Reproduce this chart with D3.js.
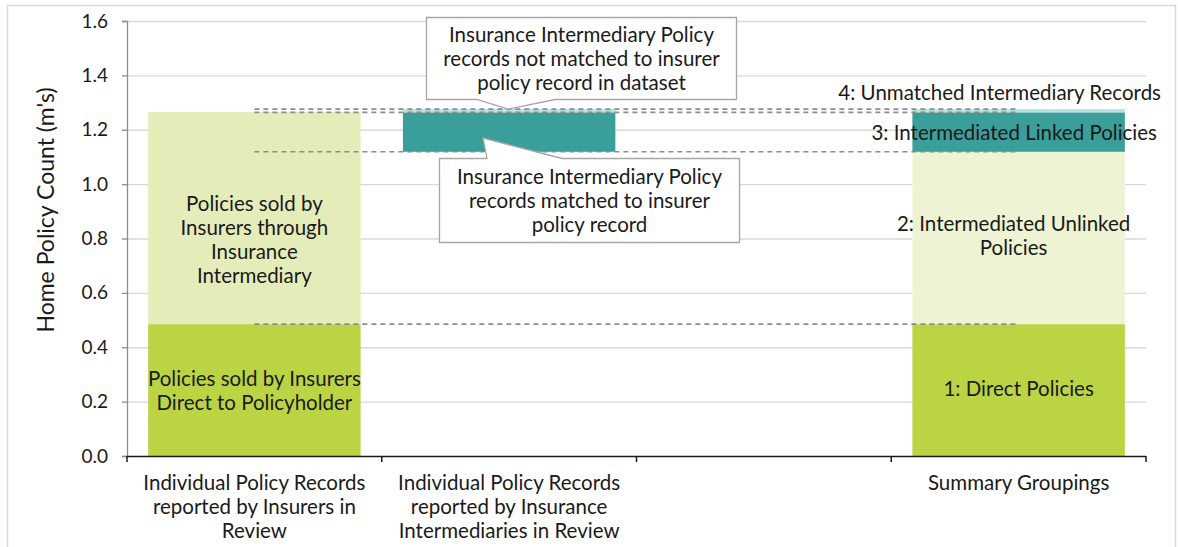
<!DOCTYPE html>
<html><head><meta charset="utf-8">
<script src="https://cdn.jsdelivr.net/npm/d3@7"></script>
<style>
html,body{margin:0;padding:0;background:#fff;}
svg text{font-family:Lato,"Open Sans",sans-serif;fill:#1a1a1a;}
</style></head>
<body><svg id="c" width="1178" height="547"></svg>
<script>
// ---- data ----
const categories = [
  ["Individual Policy Records","reported by Insurers in","Review"],
  ["Individual Policy Records","reported by Insurance","Intermediaries in Review"],
  [""],
  ["Summary Groupings"]
];
const direct       = [0.485, 0,     0, 0.485];
const intermediary = [0.780, 0,     0, 0.634];
const hiddenBase   = [0,     1.119, 0, 0];
const matched      = [0,     0.145, 0, 0.145];
const unmatched    = [0,     0.012, 0, 0.012];
const yTicks = [0, 0.2, 0.4, 0.6, 0.8, 1.0, 1.2, 1.4, 1.6];
const yTitle = "Home Policy Count (m's)";

const svg = d3.select("#c");
const m = {l:127, r:1146, t:21, b:456};
const FS = 20.5;

// chart border
svg.append("rect").attr("x",7.5).attr("y",5.5).attr("width",1168).attr("height",600)
  .attr("fill","none").attr("stroke","#d9d9d9").attr("stroke-width",1.5);

const x = d3.scaleBand().domain(d3.range(categories.length)).range([m.l, m.r])
  .paddingInner(0.166).paddingOuter(0.083);
const y = d3.scaleLinear().domain([0,1.6]).range([m.b, m.t]);

// gridlines
svg.append("g").selectAll("line").data(yTicks.slice(1)).join("line")
  .attr("x1",m.l).attr("x2",m.r).attr("y1",d=>y(d)+0.5).attr("y2",d=>y(d)+0.5)
  .attr("stroke","#d9d9d9").attr("stroke-width",1.3);

// stacked series
const series = [
  {vals:hiddenBase, colors:[null,null,null,null]},
  {vals:direct, colors:["#bbd444","#bbd444","#bbd444","#bbd444"]},
  {vals:intermediary, colors:["#e4edb9","#e4edb9","#e4edb9","#edf3d3"]},
  {vals:matched, colors:["#3a9e9a","#3a9e9a","#3a9e9a","#3a9e9a"]},
  {vals:unmatched, colors:["#b5e2e2","#b5e2e2","#b5e2e2","#b5e2e2"]}
];
const cum = categories.map(()=>0);
const segs = [];
series.forEach((s)=>{
  s.vals.forEach((v,i)=>{
    const y0 = cum[i], y1 = cum[i]+v;
    cum[i] = y1;
    if (v>0 && s.colors[i]) segs.push({i, y0, y1, c:s.colors[i]});
  });
});
svg.append("g").selectAll("rect").data(segs).join("rect")
  .attr("x",d=>x(d.i)).attr("width",x.bandwidth())
  .attr("y",d=>y(d.y1)).attr("height",d=>y(d.y0)-y(d.y1))
  .attr("fill",d=>d.c);

// series (dashed) lines from bar 1 centre to bar 4 centre at the summary stack levels
const levels = [];
{ let c=0; [direct, intermediary, matched, unmatched].forEach(a=>{ c+=a[3]; levels.push(c); }); }
const xa = x(0)+x.bandwidth()/2, xb = x(3)+x.bandwidth()/2;
svg.append("g").selectAll("line").data(levels).join("line")
  .attr("x1",xa).attr("x2",xb).attr("y1",d=>y(d)).attr("y2",d=>y(d))
  .attr("stroke","#8c8c8c").attr("stroke-width",1.6).attr("stroke-dasharray","5,4");

// y axis
const ya = svg.append("g").attr("transform",`translate(${m.l},0)`)
  .call(d3.axisLeft(y).tickValues(yTicks).tickFormat(d3.format(".1f")).tickSize(5).tickPadding(14));
ya.select(".domain").attr("stroke","#8c8c8c").attr("stroke-width",1.3);
ya.selectAll(".tick line").attr("stroke","#8c8c8c").attr("stroke-width",1.3);
ya.selectAll(".tick text").style("font-family","Lato").style("font-size","19px").attr("fill","#1a1a1a");

svg.append("text").attr("transform",`translate(54,210) rotate(-90)`)
  .attr("text-anchor","middle").style("font-size","23px").text(yTitle);

// x axis
svg.append("line").attr("x1",m.l).attr("x2",m.r).attr("y1",m.b+0.5).attr("y2",m.b+0.5)
  .attr("stroke","#1a1a1a").attr("stroke-width",1.5);
const bounds = d3.range(categories.length+1).map(i=> m.l + (m.r-m.l)*i/categories.length);
svg.append("g").selectAll("line").data(bounds).join("line")
  .attr("x1",d=>d).attr("x2",d=>d).attr("y1",m.b).attr("y2",m.b+6)
  .attr("stroke","#1a1a1a").attr("stroke-width",1.5);
categories.forEach((lines,i)=>{
  const t = svg.append("text").attr("text-anchor","middle").style("font-size",FS+"px");
  lines.forEach((ln,k)=> t.append("tspan").attr("x",x(i)+x.bandwidth()/2).attr("y",490+24*k).text(ln));
});

// text helper
function multi(lines, cx, cy, anchor="middle", lh=24, size=FS){
  const t = svg.append("text").attr("text-anchor",anchor).style("font-size",size+"px");
  const n = lines.length;
  lines.forEach((ln,k)=> t.append("tspan").attr("x",cx).attr("y",cy+(k-(n-1)/2)*lh).attr("dy","0.35em").text(ln));
}
const c0 = x(0)+x.bandwidth()/2, c3 = x(3)+x.bandwidth()/2;
multi(["Policies sold by","Insurers through","Insurance","Intermediary"], c0, 240);
multi(["Policies sold by Insurers","Direct to Policyholder"], c0, 391);
multi(["2: Intermediated Unlinked","Policies"], c3-5, 236);
multi(["1: Direct Policies"], c3, 389);
multi(["3: Intermediated Linked Policies"], 1157, 133, "end");
multi(["4: Unmatched Intermediary Records"], 1161, 93, "end");

// callouts
function callout(bx, by, bw, bh, base0, base1, tip, onTop, lines){
  let p;
  if (onTop) { // pointer from bottom edge
    p = `M${bx},${by} H${bx+bw} V${by+bh} H${base1} L${tip[0]},${tip[1]} L${base0},${by+bh} H${bx} Z`;
  } else {     // pointer from top edge
    p = `M${bx},${by} H${base0} L${tip[0]},${tip[1]} L${base1},${by} H${bx+bw} V${by+bh} H${bx} Z`;
  }
  svg.append("path").attr("d",p).attr("fill","#fff").attr("stroke","#a6a6a6").attr("stroke-width",1.3);
  multi(lines, bx+bw/2, by+bh/2, "middle", 24, FS);
}
callout(426.5, 17.5, 310, 82, 477, 555, [508, y(1.276)], true,
  ["Insurance Intermediary Policy","records not matched to insurer","policy record in dataset"]);
callout(439.5, 158.5, 300, 84, 487, 562, [483, 138], false,
  ["Insurance Intermediary Policy","records matched to insurer","policy record"]);
</script></body></html>
